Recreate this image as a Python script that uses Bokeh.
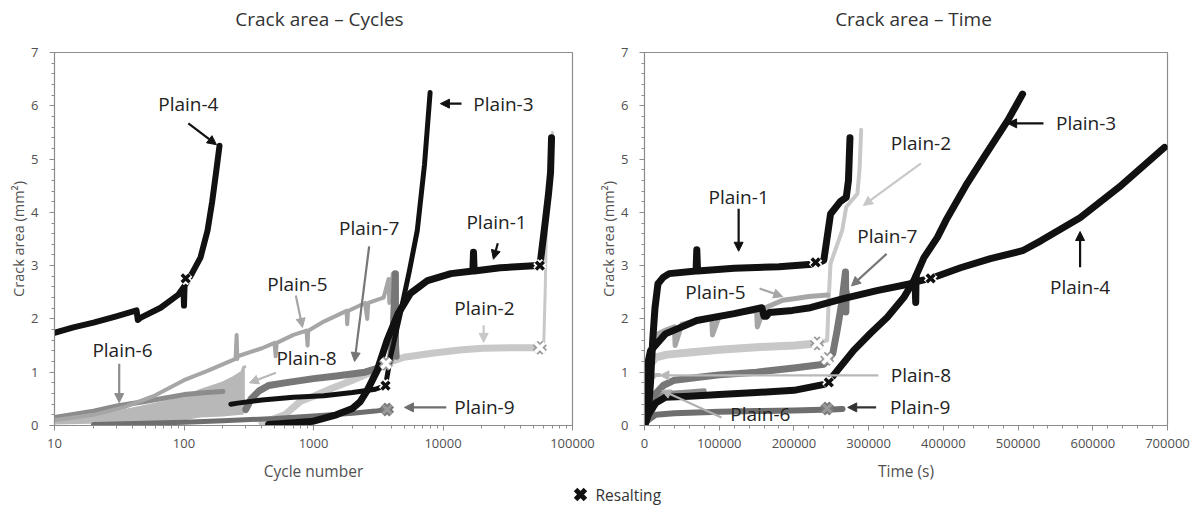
from bokeh.plotting import figure
from bokeh.layouts import column, row
from bokeh.models import (Range1d, FixedTicker, SingleIntervalTicker, PrintfTickFormatter,
                          Arrow, NormalHead, ColumnDataSource)
from bokeh.core.properties import value
from bokeh.embed import file_html
from bokeh.resources import INLINE

FONT = "Open Sans"

# ------------------------------------------------------------------
# Data: crack area (mm^2) versus cycle number (log axis)
# ------------------------------------------------------------------
p1_cyc = [450, 700, 1000, 1500, 2000, 2300, 2600, 3100, 3700, 4500, 5600, 7600, 11500,
          17000, 17200, 17400, 27700, 50000, 56000, 57000, 61800, 65300, 67700, 68900]
p1_cyc_a = [0.02, 0.05, 0.08, 0.2, 0.32, 0.45, 0.66, 1.03, 1.6, 2.1, 2.48, 2.72, 2.85,
            2.9, 3.25, 2.9, 2.96, 3.0, 3.0, 3.15, 3.85, 4.35, 4.75, 5.4]
p2_cyc = [400, 600, 790, 1000, 1420, 2000, 2620, 3200, 3630, 4000, 5000, 8500, 14000,
          20500, 35000, 56000, 60000, 61500, 63000, 66000, 70000]
p2_cyc_a = [0.05, 0.2, 0.45, 0.55, 0.71, 0.85, 0.97, 1.08, 1.16, 1.2, 1.28, 1.36, 1.42,
            1.45, 1.46, 1.46, 1.55, 2.5, 3.8, 4.7, 5.5]
p3_cyc = [230, 260, 400, 700, 1200, 2000, 3000, 3600, 3930, 4680, 5500, 6330, 7200, 7950]
p3_cyc_a = [0.4, 0.42, 0.48, 0.53, 0.56, 0.62, 0.68, 0.75, 1.28, 2.1, 2.9, 3.66, 4.9, 6.25]
p4_cyc = [10, 14, 20, 30, 43, 44, 46, 66, 90, 99, 100, 101, 115, 134, 152, 165, 178, 188]
p4_cyc_a = [1.74, 1.84, 1.93, 2.05, 2.16, 1.98, 2.02, 2.21, 2.45, 2.59, 2.25, 2.62, 2.85,
            3.15, 3.66, 4.2, 4.8, 5.25]
p5_cyc = [10, 20, 35, 58, 100, 150, 250, 255, 258, 260, 400, 500, 510, 520, 700, 883,
          900, 910, 1200, 1800, 1820, 1850, 2500, 2600, 2650, 3480, 3800, 3850, 3900, 4100, 4270]
p5_cyc_a = [0.1, 0.2, 0.35, 0.55, 0.85, 1.02, 1.25, 1.7, 1.25, 1.3, 1.45, 1.55, 1.3, 1.55,
            1.7, 1.78, 1.5, 1.78, 1.95, 2.15, 1.9, 2.15, 2.3, 2.0, 2.3, 2.4, 2.75, 2.3, 2.45, 2.85, 2.45]
p6_cyc = [10, 20, 31, 50, 100, 150, 200]
p6_cyc_a = [0.15, 0.27, 0.37, 0.45, 0.58, 0.62, 0.64]
p7_cyc = [300, 330, 380, 450, 600, 1000, 1500, 2500, 3200, 3630, 3900, 4100, 4290, 4300, 4350]
p7_cyc_a = [0.3, 0.5, 0.65, 0.75, 0.8, 0.88, 0.93, 1.0, 1.08, 1.16, 1.2, 1.6, 2.85, 1.5, 1.3]
p8_cyc = [10, 30, 55, 100, 134, 200, 241, 280, 288, 295]
p8_cyc_hi = [0.15, 0.25, 0.38, 0.52, 0.66, 0.8, 0.9, 1.0, 1.09, 1.1]
p8_cyc_lo = [0.02, 0.04, 0.06, 0.1, 0.15, 0.17, 0.19, 0.2, 0.2, 0.3]
p9_cyc = [20, 50, 100, 200, 500, 1000, 2000, 3000, 3700]
p9_cyc_a = [0.02, 0.04, 0.06, 0.09, 0.13, 0.18, 0.23, 0.27, 0.3]

# resalting points (cycles)
rs_cyc_x = [103, 56000, 3600, 56000, 3630, 3700]
rs_cyc_a = [2.76, 3.0, 0.75, 1.46, 1.16, 0.3]
rs_cyc_kind = ["dark", "dark", "dark", "light", "light", "mid"]

# ------------------------------------------------------------------
# Data: crack area (mm^2) versus time (s)
# ------------------------------------------------------------------
p1_t = [0, 5000, 8000, 11000, 14000, 18000, 25000, 33000, 69000, 70000, 71000, 120000,
        180000, 229000, 240000, 249000, 262000, 270000, 273000, 275000]
p1_t_a = [0.0, 0.2, 0.8, 1.6, 2.2, 2.66, 2.78, 2.85, 2.9, 3.3, 2.9, 2.95, 2.98, 3.03,
          3.1, 3.97, 4.2, 4.28, 4.6, 5.4]
p2_t = [0, 3000, 8000, 15000, 30000, 60000, 100000, 150000, 200000, 231000, 244500,
        247000, 249000, 264600, 270000, 285000, 288000, 290000]
p2_t_a = [0.1, 0.8, 1.15, 1.28, 1.33, 1.37, 1.42, 1.47, 1.5, 1.54, 1.6, 2.5, 3.04, 3.66,
          4.1, 4.35, 4.85, 5.55]
p3_t = [0, 5000, 15000, 28000, 60000, 100000, 150000, 200000, 244000, 258000, 280000,
        302500, 325000, 347000, 360500, 374000, 392000, 403500, 430000, 455000, 486000, 506000]
p3_t_a = [0.0, 0.2, 0.42, 0.53, 0.55, 0.58, 0.62, 0.66, 0.78, 1.03, 1.41, 1.73, 2.03,
          2.4, 2.72, 3.15, 3.53, 3.85, 4.5, 5.05, 5.72, 6.22]
p4_t = [0, 2000, 5000, 8000, 28000, 70000, 120000, 157000, 160000, 163000, 167000, 198000,
        222000, 266000, 311000, 356000, 362000, 363000, 363500, 364000, 383000, 423000,
        463000, 506000, 531000, 583000, 635000, 696000]
p4_t_a = [0.2, 0.9, 1.2, 1.4, 1.72, 1.97, 2.1, 2.21, 2.05, 2.05, 2.12, 2.16, 2.21, 2.38,
          2.53, 2.66, 2.7, 2.31, 2.8, 2.7, 2.76, 2.96, 3.13, 3.28, 3.47, 3.9, 4.47, 5.22]
p5_t = [0, 3000, 8000, 15000, 30000, 40000, 41000, 50000, 80000, 90000, 91000, 100000,
        130000, 150000, 151000, 160000, 185000, 200000, 220000, 245000]
p5_t_a = [0.1, 0.8, 1.4, 1.7, 1.8, 1.85, 1.5, 1.9, 2.0, 2.02, 1.7, 2.05, 2.12, 2.16,
          1.85, 2.2, 2.35, 2.38, 2.42, 2.45]
p6_t = [0, 5000, 15000, 28000, 50000, 80000]
p6_t_a = [0.1, 0.35, 0.5, 0.6, 0.62, 0.65]
p7_t = [10000, 15000, 25000, 40000, 70000, 100000, 150000, 200000, 240000, 246000,
        252000, 258000, 264000, 269000, 269500, 270000]
p7_t_a = [0.3, 0.6, 0.75, 0.85, 0.9, 0.95, 1.0, 1.08, 1.15, 1.25, 1.35, 1.8, 2.3, 2.88, 2.13, 2.5]
p8_t = [0, 3000, 8000, 15000, 20000]
p8_t_a = [0.1, 0.6, 0.85, 0.95, 0.95]
p9_t = [0, 5000, 15000, 40000, 100000, 150000, 200000, 250000, 265000]
p9_t_a = [0.02, 0.1, 0.2, 0.23, 0.26, 0.27, 0.28, 0.3, 0.31]

rs_t_x = [229000, 246700, 383000, 231000, 244500, 244500]
rs_t_a = [3.06, 0.81, 2.76, 1.54, 1.25, 0.32]
rs_t_kind = ["dark", "dark", "dark", "light", "light", "mid"]

# ------------------------------------------------------------------
# Texts
# ------------------------------------------------------------------
titles = ["Crack area – Cycles", "Crack area – Time"]
legend_label = "Resalting"

lab_cyc_text = ["Plain-4", "Plain-3", "Plain-7", "Plain-1", "Plain-5", "Plain-2",
                "Plain-6", "Plain-8", "Plain-9"]
lab_cyc_x = [108, 29300, 2690, 25900, 751, 20900, 33.5, 883, 20900]
lab_cyc_y = [6.04, 6.04, 3.71, 3.81, 2.66, 2.21, 1.41, 1.26, 0.34]
arr_cyc = [  # x0, y0, x1, y1, colour
    (108, 5.67, 178, 5.27, "#111111"),
    (13900, 6.04, 9550, 6.04, "#111111"),
    (2690, 3.36, 2075, 1.2, "#777777"),
    (26500, 3.42, 24500, 3.12, "#111111"),
    (730, 2.44, 822, 1.84, "#a6a6a6"),
    (20600, 1.88, 20600, 1.56, "#c8c8c8"),
    (31.6, 1.16, 31.6, 0.43, "#8c8c8c"),
    (512, 0.99, 320, 0.8, "#b8b8b8"),
    (10600, 0.34, 5040, 0.34, "#6e6e6e"),
]

lab_t_text = ["Plain-1", "Plain-2", "Plain-3", "Plain-7", "Plain-4", "Plain-5",
              "Plain-8", "Plain-9", "Plain-6"]
lab_t_x = [126000, 370000, 591000, 325000, 583000, 95000, 370000, 369000, 155000]
lab_t_y = [4.28, 5.31, 5.67, 3.56, 2.59, 2.5, 0.94, 0.34, 0.22]
arr_t = [
    (126000, 4.07, 126000, 3.27, "#111111"),
    (370000, 4.92, 293000, 4.13, "#c8c8c8"),
    (534000, 5.67, 486000, 5.67, "#111111"),
    (324000, 3.22, 277000, 2.62, "#777777"),
    (583000, 2.97, 583000, 3.64, "#111111"),
    (154000, 2.57, 185000, 2.42, "#a6a6a6"),
    (313000, 0.94, 20700, 0.94, "#b8b8b8"),
    (310000, 0.34, 272000, 0.34, "#333333"),
    (103000, 0.15, 23000, 0.66, "#b0b0b0"),
]

# ------------------------------------------------------------------
BLACK = "#111111"
C2 = "#c8c8c8"
C5 = "#a6a6a6"
C6 = "#8c8c8c"
C7 = "#777777"
C8 = "#b8b8b8"
C9 = "#6e6e6e"
AXIS_C = "#8c8c8c"
TEXT_C = "#505050"


def bare(p):
    p.axis.visible = False
    p.xgrid.visible = False
    p.ygrid.visible = False


def style(p, xlabel):
    p.xgrid.visible = False
    p.ygrid.visible = False
    p.outline_line_color = AXIS_C
    p.outline_line_width = 1.2
    for ax in (p.xaxis, p.yaxis):
        ax.axis_line_color = AXIS_C
        ax.major_tick_line_color = AXIS_C
        ax.minor_tick_line_color = AXIS_C
        ax.major_tick_in = 0
        ax.major_tick_out = 5
        ax.minor_tick_in = 0
        ax.minor_tick_out = 3
        ax.major_label_text_font = FONT
        ax.major_label_text_font_size = "13px"
        ax.major_label_text_color = TEXT_C
        ax.axis_label_text_font = FONT
        ax.axis_label_text_font_style = "normal"
        ax.axis_label_text_color = TEXT_C
    p.xaxis.axis_label = xlabel
    p.xaxis.axis_label_text_font_size = "15.5px"
    p.xaxis.major_label_standoff = 8
    p.xaxis.axis_label_standoff = 9
    p.yaxis.axis_label = "Crack area (mm²)"
    p.yaxis.axis_label_text_font_size = "14.5px"
    p.yaxis.major_label_standoff = 11
    p.yaxis.axis_label_standoff = 0
    p.yaxis.ticker = SingleIntervalTicker(interval=1, num_minor_ticks=5)
    p.yaxis.formatter = PrintfTickFormatter(format="%d")
    p.xaxis.formatter = PrintfTickFormatter(format="%d")
    p.background_fill_color = "white"
    p.border_fill_color = "white"


def resalt(p, xs, ys, kinds):
    for x, y, k in zip(xs, ys, kinds):
        if k == "dark":
            p.scatter([x], [y], marker="x", size=12, line_width=7, line_color="white")
            p.scatter([x], [y], marker="x", size=11, line_width=3.5, line_color=BLACK)
        elif k == "light":
            p.scatter([x], [y], marker="x", size=13, line_width=7, line_color="#9a9a9a")
            p.scatter([x], [y], marker="x", size=13, line_width=3.5, line_color="white")
        else:
            p.scatter([x], [y], marker="x", size=13, line_width=7, line_color="#7a7a7a")
            p.scatter([x], [y], marker="x", size=12, line_width=3, line_color="#999999")


def annotate(p, texts, xs, ys, arrows):
    for x0, y0, x1, y1, c in arrows:
        p.add_layout(Arrow(end=NormalHead(size=9, line_color=c, fill_color=c, line_width=1),
                           x_start=x0, y_start=y0, x_end=x1, y_end=y1,
                           line_color=c, line_width=2.2))
    src = ColumnDataSource(dict(x=xs, y=ys, t=texts))
    p.text(x="x", y="y", text="t", source=src, text_font=value(FONT),
           text_font_size="19px", text_color="#222222",
           text_align="center", text_baseline="middle")


def ln(p, xs, ys, c, w):
    p.line(xs, ys, line_color=c, line_width=w, line_join="round", line_cap="round")


# ---------------- title strip ----------------
p0 = figure(width=1202, height=34, x_range=Range1d(0, 1202), y_range=Range1d(0, 34),
            output_backend="svg", toolbar_location=None,
            min_border=0, outline_line_color=None)
bare(p0)
p0.text(x=[319, 913], y=[16, 16], text=titles, text_font=value(FONT),
        text_font_size="19px", text_color="#333333",
        text_align="center", text_baseline="middle")

# ---------------- left: cycles ----------------
p1 = figure(width=595, height=451, x_axis_type="log",
            x_range=Range1d(10, 100000), y_range=Range1d(0, 7),
            output_backend="svg", toolbar_location=None,
            min_border_left=54, min_border_right=23, min_border_top=18, min_border_bottom=60)
style(p1, "Cycle number")
p1.xaxis.ticker = FixedTicker(ticks=[10, 100, 1000, 10000, 100000],
                              minor_ticks=[m * 10 ** e for e in range(1, 5) for m in range(2, 10)])

p1.varea(x=p8_cyc, y1=p8_cyc_lo, y2=p8_cyc_hi, fill_color=C8)
ln(p1, p8_cyc, p8_cyc_hi, C8, 3)
ln(p1, p6_cyc, p6_cyc_a, C6, 5)
ln(p1, p5_cyc, p5_cyc_a, C5, 4)
ln(p1, p2_cyc[:16], p2_cyc_a[:16], C2, 7)
ln(p1, p2_cyc[15:], p2_cyc_a[15:], C2, 3)
ln(p1, p9_cyc, p9_cyc_a, C9, 5)
ln(p1, p7_cyc, p7_cyc_a, C7, 7)
ln(p1, p3_cyc, p3_cyc_a, BLACK, 5)
ln(p1, p4_cyc, p4_cyc_a, BLACK, 6)
ln(p1, p1_cyc, p1_cyc_a, BLACK, 7)
resalt(p1, rs_cyc_x, rs_cyc_a, rs_cyc_kind)
annotate(p1, lab_cyc_text, lab_cyc_x, lab_cyc_y, arr_cyc)

# ---------------- right: time ----------------
p2 = figure(width=607, height=451,
            x_range=Range1d(0, 700000), y_range=Range1d(0, 7),
            output_backend="svg", toolbar_location=None,
            min_border_left=49, min_border_right=35, min_border_top=18, min_border_bottom=60)
style(p2, "Time (s)")
p2.xaxis.ticker = SingleIntervalTicker(interval=100000, num_minor_ticks=5)

ln(p2, p8_t, p8_t_a, C8, 4)
ln(p2, p6_t, p6_t_a, C6, 5)
ln(p2, p2_t[:10], p2_t_a[:10], C2, 8)
ln(p2, p2_t[9:], p2_t_a[9:], C2, 4)
ln(p2, p5_t, p5_t_a, C5, 5)
ln(p2, p7_t, p7_t_a, C7, 7)
ln(p2, p9_t, p9_t_a, C9, 6)
ln(p2, p3_t, p3_t_a, BLACK, 7)
ln(p2, p4_t, p4_t_a, BLACK, 7)
ln(p2, p1_t, p1_t_a, BLACK, 7)
resalt(p2, rs_t_x, rs_t_a, rs_t_kind)
annotate(p2, lab_t_text, lab_t_x, lab_t_y, arr_t)

# ---------------- legend strip (marker + label) ----------------
p3 = figure(width=1202, height=21, x_range=Range1d(0, 1202), y_range=Range1d(0, 21),
            output_backend="svg", toolbar_location=None,
            min_border=0, outline_line_color=None)
bare(p3)
p3.scatter(x=[580], y=[12], marker="x", size=14, line_width=5, line_color=BLACK)
p3.text(x=[595], y=[12], text=[legend_label], text_font=value(FONT),
        text_font_size="15.5px", text_color="#333333",
        text_align="left", text_baseline="middle")

layout = column(p0, row(p1, p2, spacing=0), p3, spacing=0)
open("out.html", "w").write(file_html(layout, INLINE))
